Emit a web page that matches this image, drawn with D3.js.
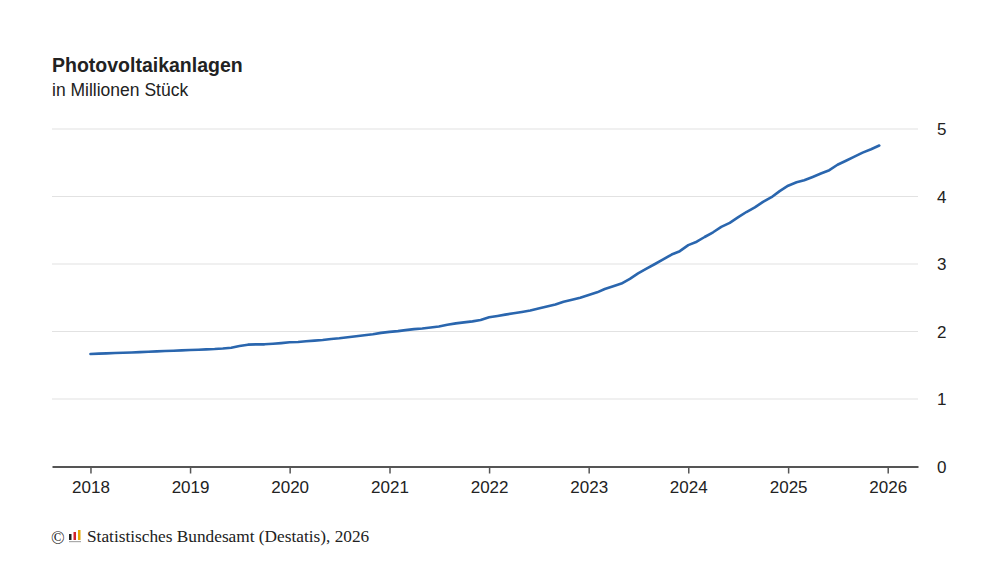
<!DOCTYPE html>
<html lang="de">
<head>
<meta charset="utf-8">
<script src="https://cdn.jsdelivr.net/npm/d3@7"></script>
<style>
  html, body { margin: 0; padding: 0; background: #fff; }
  svg { display: block; font-family: "Liberation Sans", Arial, sans-serif; }
</style>
</head>
<body>
<svg id="chart" width="1000" height="563"></svg>
<script>
// ---- data: Photovoltaikanlagen in Mio. Stück, monthly Jan 2018 – Dec 2025 ----
const START_YEAR = 2018;
const values2018 = [1.667, 1.672, 1.676, 1.681, 1.685, 1.690, 1.695, 1.700, 1.705, 1.710, 1.715, 1.720];
const values2019 = [1.726, 1.730, 1.735, 1.740, 1.748, 1.760, 1.785, 1.805, 1.810, 1.810, 1.818, 1.828];
const values2020 = [1.840, 1.845, 1.855, 1.865, 1.875, 1.890, 1.900, 1.915, 1.930, 1.945, 1.960, 1.980];
const values2021 = [1.995, 2.005, 2.020, 2.035, 2.045, 2.060, 2.075, 2.100, 2.120, 2.135, 2.150, 2.170];
const values2022 = [2.210, 2.230, 2.250, 2.270, 2.290, 2.310, 2.340, 2.370, 2.400, 2.440, 2.470, 2.500];
const values2023 = [2.540, 2.580, 2.630, 2.670, 2.710, 2.780, 2.860, 2.930, 3.000, 3.070, 3.140, 3.190];
const values2024 = [3.280, 3.330, 3.400, 3.470, 3.550, 3.610, 3.690, 3.770, 3.840, 3.920, 3.990, 4.080];
const values2025 = [4.160, 4.210, 4.240, 4.290, 4.340, 4.390, 4.470, 4.530, 4.590, 4.650, 4.700, 4.755];

const xTickYears = [2018, 2019, 2020, 2021, 2022, 2023, 2024, 2025, 2026];
const yTicks = [0, 1, 2, 3, 4, 5];

const TITLE = "Photovoltaikanlagen";
const SUBTITLE = "in Millionen Stück";
const SOURCE = "Statistisches Bundesamt (Destatis), 2026";

// flatten to {date, value}
const series = [values2018, values2019, values2020, values2021,
                values2022, values2023, values2024, values2025]
  .flatMap((vals, yi) => vals.map((v, m) => ({ date: new Date(START_YEAR + yi, m, 1), value: v })));

// ---- layout ----
const svg = d3.select("#chart");
const plot = { left: 52, right: 918, top: 129, bottom: 466.5 };

const x = d3.scaleTime()
  .domain([new Date(2017, 7, 13), new Date(2026, 3, 22)])
  .range([plot.left, plot.right]);

const y = d3.scaleLinear()
  .domain([0, 5])
  .range([plot.bottom, plot.top]);

// gridlines
svg.append("g")
  .selectAll("line")
  .data(yTicks.filter(d => d > 0))
  .join("line")
  .attr("x1", plot.left)
  .attr("x2", plot.right)
  .attr("y1", d => y(d))
  .attr("y2", d => y(d))
  .attr("stroke", "#e2e2e2")
  .attr("stroke-width", 1.2);

// y labels (right side)
svg.append("g")
  .selectAll("text")
  .data(yTicks)
  .join("text")
  .attr("x", 937)
  .attr("y", d => y(d) + 6)
  .attr("font-size", 17)
  .attr("fill", "#222")
  .text(d => d);

// x axis
const xAxis = d3.axisBottom(x)
  .tickValues(xTickYears.map(yr => new Date(yr, 0, 1)))
  .tickFormat(d3.timeFormat("%Y"))
  .tickSize(7)
  .tickPadding(7)
  .tickSizeOuter(0);

const gx = svg.append("g")
  .attr("transform", `translate(0,${plot.bottom})`)
  .call(xAxis);

gx.select(".domain").attr("stroke", "#555").attr("stroke-width", 2);
gx.selectAll(".tick line").attr("stroke", "#555").attr("stroke-width", 1.5);
gx.selectAll(".tick text")
  .attr("font-size", 17)
  .attr("font-family", "Liberation Sans, Arial, sans-serif")
  .attr("fill", "#222");

// line
const line = d3.line()
  .x(d => x(d.date))
  .y(d => y(d.value))
  .curve(d3.curveLinear);

svg.append("path")
  .datum(series)
  .attr("d", line)
  .attr("fill", "none")
  .attr("stroke", "#2a66ae")
  .attr("stroke-width", 2.6)
  .attr("stroke-linejoin", "round")
  .attr("stroke-linecap", "round");

// titles
svg.append("text")
  .attr("x", 52).attr("y", 72)
  .attr("font-size", 19.5).attr("font-weight", "bold")
  .attr("fill", "#222")
  .text(TITLE);

svg.append("text")
  .attr("x", 52).attr("y", 96)
  .attr("font-size", 17.5)
  .attr("fill", "#222")
  .text(SUBTITLE);

// source line with little logo
const src = svg.append("g").attr("font-family", "Liberation Serif, 'Times New Roman', serif");
src.append("text")
  .attr("x", 51).attr("y", 544)
  .attr("font-size", 18)
  .attr("fill", "#222")
  .text("©");

const logo = src.append("g").attr("transform", "translate(69,530)");
logo.append("rect").attr("x", 0).attr("y", 4).attr("width", 2.5).attr("height", 6).attr("fill", "#222");
logo.append("rect").attr("x", 4.5).attr("y", 2).attr("width", 2.5).attr("height", 8).attr("fill", "#d2232a");
logo.append("rect").attr("x", 9).attr("y", 0).attr("width", 2.5).attr("height", 10).attr("fill", "#e5a800");
logo.append("rect").attr("x", 0).attr("y", 11).attr("width", 12).attr("height", 1.2).attr("fill", "#aaa");

src.append("text")
  .attr("x", 87).attr("y", 542)
  .attr("font-size", 17.3)
  .attr("fill", "#222")
  .text(SOURCE);
</script>
</body>
</html>
